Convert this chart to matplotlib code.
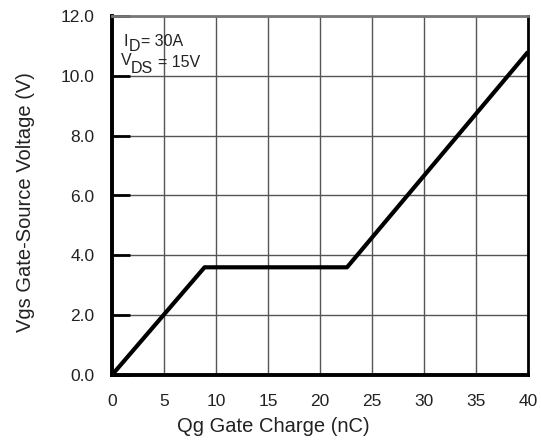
import numpy as np
import matplotlib
matplotlib.use("Agg")
import matplotlib.pyplot as plt

# gate charge curve
qg = [0, 8.9, 22.6, 40]
vgs = [0, 3.6, 3.6, 10.8]

x_ticks = [0, 5, 10, 15, 20, 25, 30, 35, 40]
y_ticks = [0, 2, 4, 6, 8, 10, 12]

plt.rcParams['font.family'] = ['Liberation Sans', 'DejaVu Sans']

W, H = 541, 440
fig = plt.figure(figsize=(W / 100, H / 100), dpi=100)
ax = fig.add_axes([112 / W, 1 - 375 / H, 416 / W, 359 / H])

ax.plot(qg, vgs, color='black', lw=3, solid_capstyle='butt', clip_on=False, zorder=3)

ax.set_xlim(0, 40)
ax.set_ylim(0, 12)
ax.set_xticks(x_ticks)
ax.set_yticks(y_ticks)
ax.set_yticklabels(["%.1f" % v for v in y_ticks])
ax.grid(True, color='#555555', lw=1.0)
ax.tick_params(axis='x', labelsize=12.5, length=0, pad=13.5, colors='#222222')
ax.tick_params(axis='y', labelsize=12.5, direction='in', length=13, width=2,
               color='black', pad=-0.5, labelcolor='#222222')
for lab in ax.get_yticklabels():
    lab.set_x(-18 / 416)
    lab.set_horizontalalignment('right')

for s in ['left', 'bottom']:
    ax.spines[s].set_linewidth(2.8)
ax.spines['right'].set_linewidth(2.0)
ax.spines['top'].set_linewidth(2.0)
ax.spines['top'].set_color('#777777')

ax.set_xlabel("Qg Gate Charge (nC)", fontsize=14.5, color='#222222')
ax.set_ylabel("Vgs Gate-Source Voltage (V)", fontsize=14.5, color='#222222')
ax.xaxis.set_label_coords(0.388, -0.117)
ax.yaxis.set_label_coords(-0.185, 0.482)

# operating condition note (pixel positions in the figure)
def note(x, y, s, size=11.5):
    fig.text(x / W, 1 - y / H, s, fontsize=size, va='baseline', ha='left', color='#222222')

note(124, 46.5, "I")
note(129, 51, "D")
note(141, 46.5, "= 30A")
note(121, 65, "V")
note(131, 73, "DS")
note(158, 67, "= 15V")

fig.savefig("out.png", dpi=100)
